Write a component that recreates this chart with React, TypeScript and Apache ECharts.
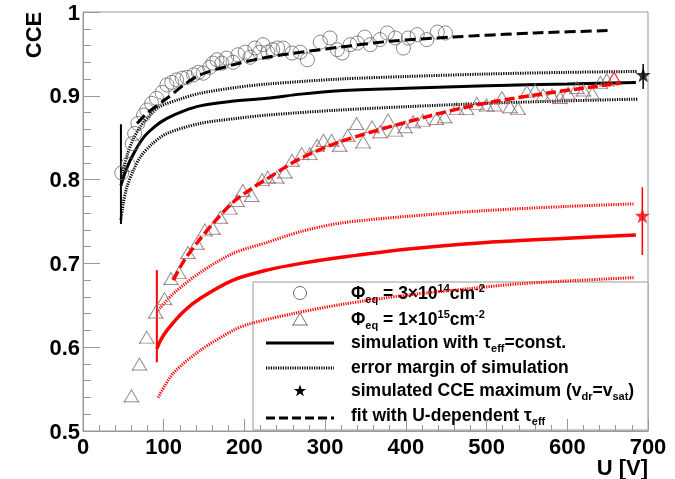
import React, { useEffect, useRef } from "react";
import * as echarts from "echarts";

type P = [number, number];

const xTicks = [0, 100, 200, 300, 400, 500, 600, 700];
const yTicks = [0.5, 0.6, 0.7, 0.8, 0.9, 1];

const circles3e14: P[] = [[48,0.808],[56,0.818],[61,0.843],[64,0.855],[68,0.867],[75,0.877],[79,0.883],[85,0.891],[91,0.897],[98,0.904],[104,0.913],[110,0.916],[116,0.919],[123,0.921],[129,0.922],[137,0.925],[143,0.928],[149,0.927],[157,0.934],[161,0.939],[166,0.943],[172,0.939],[178,0.945],[186,0.940],[192,0.949],[201,0.952],[207,0.946],[213,0.957],[219,0.952],[223,0.961],[229,0.952],[235,0.955],[241,0.957],[248,0.957],[259,0.951],[269,0.952],[278,0.943],[294,0.964],[306,0.969],[315,0.955],[321,0.951],[331,0.961],[340,0.963],[349,0.970],[356,0.961],[368,0.967],[377,0.975],[387,0.969],[397,0.957],[403,0.969],[414,0.973],[426,0.967],[439,0.976],[449,0.975]];

const triangles1e15: P[] = [[60,0.542],[70,0.580],[79,0.612],[90,0.642],[101,0.658],[109,0.682],[119,0.689],[130,0.713],[141,0.724],[151,0.740],[161,0.742],[170,0.755],[182,0.766],[191,0.775],[198,0.787],[209,0.781],[222,0.800],[229,0.803],[240,0.803],[250,0.809],[259,0.823],[271,0.831],[281,0.831],[290,0.841],[298,0.847],[308,0.847],[318,0.841],[328,0.853],[339,0.867],[347,0.845],[358,0.863],[368,0.857],[378,0.871],[387,0.859],[399,0.863],[409,0.869],[421,0.871],[438,0.873],[448,0.875],[463,0.885],[475,0.885],[488,0.891],[500,0.889],[510,0.889],[519,0.898],[529,0.887],[539,0.885],[550,0.905],[560,0.907],[570,0.901],[581,0.901],[591,0.898],[601,0.903],[612,0.910],[620,0.907],[631,0.903],[641,0.916],[649,0.919]];
const triangleLastRed: P[] = [[658,0.921]];

const simBlack: P[] = [[47,0.793],[52,0.808],[60,0.826],[74,0.849],[90,0.864],[104,0.873],[125,0.882],[145,0.888],[180,0.893],[228,0.897],[270,0.902],[318,0.906],[400,0.909],[500,0.912],[600,0.914],[685,0.916]];
const simBlackUp: P[] = [[48,0.805],[55,0.830],[62,0.848],[71,0.863],[82,0.876],[95,0.887],[120,0.896],[145,0.903],[190,0.910],[228,0.914],[318,0.920],[400,0.923],[500,0.926],[600,0.928],[687,0.929]];
const simBlackLow: P[] = [[47,0.752],[50,0.772],[54,0.790],[62,0.810],[71,0.827],[85,0.842],[104,0.855],[145,0.867],[190,0.873],[228,0.877],[318,0.883],[400,0.887],[500,0.891],[600,0.894],[687,0.896]];
const fitBlack: P[] = [[67,0.867],[79,0.879],[104,0.897],[125,0.913],[145,0.925],[186,0.937],[228,0.946],[270,0.952],[318,0.958],[380,0.965],[455,0.970],[560,0.975],[656,0.978]];

const simRed: P[] = [[91.5,0.598],[96,0.608],[104,0.620],[124,0.642],[145,0.658],[186,0.680],[228,0.692],[270,0.700],[318,0.707],[400,0.717],[500,0.725],[600,0.730],[685,0.734]];
const simRedUp: P[] = [[93,0.644],[112,0.664],[145,0.689],[186,0.712],[228,0.725],[270,0.738],[318,0.748],[400,0.756],[498,0.763],[600,0.768],[682,0.771]];
const simRedLow: P[] = [[93,0.540],[112,0.569],[145,0.596],[186,0.620],[207,0.628],[260,0.640],[320,0.651],[400,0.662],[480,0.670],[545,0.676],[682,0.683]];
const fitRed: P[] = [[112,0.680],[125,0.703],[145,0.729],[165,0.752],[186,0.773],[207,0.788],[228,0.801],[269,0.825],[318,0.845],[395,0.867],[477,0.887],[560,0.901],[665,0.915]];

const errBarBlackStart: P[] = [[47,0.747],[47,0.866]];
const errBarRedStart: P[] = [[91.5,0.582],[91.5,0.692]];
const maxBlack: P[] = [[694,0.925]];
const maxBlackErr: P[] = [[694,0.908],[694,0.938]];
const maxRed: P[] = [[693,0.757]];
const maxRedErr: P[] = [[693,0.710],[693,0.791]];

const STAR = "path://M0,-10L2.35,-3.24L9.51,-3.09L3.8,1.24L5.88,8.09L0,4L-5.88,8.09L-3.8,1.24L-9.51,-3.09L-2.35,-3.24Z";
const FONT = "'Liberation Sans', Arial, Helvetica, sans-serif";
const DOT = [1.2, 1.2];
const DASH = [11, 5];
const TRI_W = 14, TRI_H = 12;

function starPoints(cx: number, cy: number, r: number): number[][] {
  const pts: number[][] = [];
  for (let i = 0; i < 10; i++) {
    const a = -Math.PI / 2 + (i * Math.PI) / 5;
    const rr = i % 2 === 0 ? r : r * 0.4;
    pts.push([cx + rr * Math.cos(a), cy + rr * Math.sin(a)]);
  }
  return pts;
}

const lineSeries = (data: P[], color: string, type: any, width = 3, z = 2) => ({
  type: "line",
  data,
  showSymbol: false,
  symbol: "none",
  smooth: 0.3,
  lineStyle: { color, width, type },
  z,
});

const cornerDots = (offset: number[]) => ({
  type: "scatter",
  data: triangles1e15,
  symbol: "rect",
  symbolSize: 1.5,
  symbolOffset: offset,
  itemStyle: { color: "#ff5050" },
  z: 4,
  silent: true,
});

const richStyles = {
  m: { fontSize: 17.5, fontWeight: "bold", fontFamily: FONT, color: "#000", lineHeight: 22 },
  s: { fontSize: 11, fontWeight: "bold", fontFamily: FONT, color: "#000", lineHeight: 10, verticalAlign: "bottom" },
  p: { fontSize: 11, fontWeight: "bold", fontFamily: FONT, color: "#000", lineHeight: 10, verticalAlign: "top" },
};

export default function App() {
  const ref = useRef<HTMLDivElement>(null);
  useEffect(() => {
    if (!ref.current) return;
    const chart = echarts.init(ref.current, undefined, { renderer: "svg" });
    const LX = 253, LY = 282, LW = 395, LH = 148;
    const symX = 300, txtX = 351;
    const rows = [293, 319, 342, 367, 390, 415];
    const legendText = (y: number, text: string) => ({
      type: "text",
      x: txtX,
      y,
      style: { text, rich: richStyles, align: "left", verticalAlign: "middle", font: `bold 17.5px ${FONT}` },
    });
    const option: any = {
      animation: false,
      grid: { left: 83, right: 27, top: 12, bottom: 48, show: true, borderColor: "#999", borderWidth: 1, backgroundColor: "transparent" },
      xAxis: {
        type: "value",
        min: xTicks[0],
        max: xTicks[xTicks.length - 1],
        interval: 100,
        axisLine: { show: true, onZero: false, lineStyle: { color: "#999", width: 1 } },
        axisTick: { show: true, inside: true, length: 12, lineStyle: { color: "#999" } },
        minorTick: { show: true, splitNumber: 5, length: 6, lineStyle: { color: "#999" } },
        splitLine: { show: false },
        axisLabel: { margin: 4, fontSize: 22, fontWeight: "bold", color: "#000", fontFamily: FONT, showMaxLabel: true, showMinLabel: true },
      },
      yAxis: {
        type: "value",
        min: yTicks[0],
        max: yTicks[yTicks.length - 1],
        interval: 0.1,
        axisLine: { show: true, onZero: false, lineStyle: { color: "#999", width: 1 } },
        axisTick: { show: true, inside: true, length: 17, lineStyle: { color: "#999" } },
        minorTick: { show: true, splitNumber: 5, length: 8, lineStyle: { color: "#999" } },
        splitLine: { show: false },
        axisLabel: {
          margin: 3,
          fontSize: 22,
          fontWeight: "bold",
          color: "#000",
          fontFamily: FONT,
          padding: [7, 0, 0, 0],
          formatter: (v: number) => (Math.abs(v - 1) < 1e-9 ? "1" : v.toFixed(1)),
        },
      },
      series: [
        lineSeries(simBlackUp, "#000", DOT),
        lineSeries(simBlackLow, "#000", DOT),
        lineSeries(simBlack, "#000", "solid"),
        lineSeries(simRedUp, "#ff0000", DOT),
        lineSeries(simRedLow, "#ff0000", DOT),
        lineSeries(simRed, "#ff0000", "solid", 3.5),
        { type: "line", data: errBarBlackStart, symbol: "none", lineStyle: { color: "#000", width: 2 }, z: 3 },
        { type: "line", data: errBarRedStart, symbol: "none", lineStyle: { color: "#ff0000", width: 2 }, z: 3 },
        { type: "line", data: maxBlackErr, symbol: "none", lineStyle: { color: "#000", width: 1.5 }, z: 3 },
        { type: "line", data: maxRedErr, symbol: "none", lineStyle: { color: "#ff0000", width: 1.5 }, z: 3 },
        {
          type: "scatter", data: circles3e14, symbol: "circle", symbolSize: 14,
          itemStyle: { color: "rgba(0,0,0,0)", borderColor: "#666", borderWidth: 1 }, z: 4,
        },
        {
          type: "scatter", data: triangles1e15, symbol: "triangle", symbolSize: [TRI_W, TRI_H],
          itemStyle: { color: "rgba(0,0,0,0)", borderColor: "#777", borderWidth: 1 }, z: 4,
        },
        cornerDots([-TRI_W / 2, TRI_H / 2]),
        cornerDots([TRI_W / 2, TRI_H / 2]),
        {
          type: "scatter", data: triangleLastRed, symbol: "triangle", symbolSize: [TRI_W, TRI_H],
          itemStyle: { color: "rgba(0,0,0,0)", borderColor: "#ff0000", borderWidth: 1.2 }, z: 4,
        },
        lineSeries(fitBlack, "#000", DASH, 3, 5),
        lineSeries(fitRed, "#ff0000", [10, 4], 3.5, 5),
        { type: "scatter", data: maxBlack, symbol: STAR, symbolSize: 15, itemStyle: { color: "#000" }, z: 6 },
        { type: "scatter", data: maxRed, symbol: STAR, symbolSize: 15, itemStyle: { color: "#ff0000" }, z: 6 },
      ],
      graphic: [
        {
          type: "text", x: 33, y: 35, rotation: Math.PI / 2,
          style: { text: "CCE", font: `bold 22px ${FONT}`, fill: "#000", align: "center", verticalAlign: "middle" },
        },
        {
          type: "text", x: 648, y: 467,
          style: { text: "U [V]", font: `bold 22px ${FONT}`, fill: "#000", align: "right", verticalAlign: "middle" },
        },
        {
          type: "group",
          z: 100,
          children: [
            { type: "rect", shape: { x: LX, y: LY, width: LW, height: LH }, style: { fill: "#fff", stroke: "#999", lineWidth: 1 } },
            { type: "circle", shape: { cx: symX, cy: rows[0], r: 6.5 }, style: { fill: "none", stroke: "#666", lineWidth: 1 } },
            { type: "polygon", shape: { points: [[symX - 7, rows[1] + 6], [symX, rows[1] - 6], [symX + 7, rows[1] + 6]] }, style: { fill: "none", stroke: "#777", lineWidth: 1 } },
            { type: "rect", shape: { x: symX - 7.75, y: rows[1] + 5.25, width: 1.5, height: 1.5 }, style: { fill: "#ff5050" } },
            { type: "rect", shape: { x: symX + 6.25, y: rows[1] + 5.25, width: 1.5, height: 1.5 }, style: { fill: "#ff5050" } },
            { type: "line", shape: { x1: 266, y1: rows[2] + 1, x2: 334, y2: rows[2] + 1 }, style: { stroke: "#000", lineWidth: 3 } },
            { type: "line", shape: { x1: 266, y1: rows[3] + 1, x2: 334, y2: rows[3] + 1 }, style: { stroke: "#000", lineWidth: 3, lineDash: DOT } },
            { type: "polygon", shape: { points: starPoints(symX, rows[4] + 1, 6.5) }, style: { fill: "#000" } },
            { type: "line", shape: { x1: 266, y1: rows[5] + 3, x2: 334, y2: rows[5] + 3 }, style: { stroke: "#000", lineWidth: 3, lineDash: [9, 4] } },
            legendText(rows[0], "{m|Φ}{s|eq}{m| = 3×10}{p|14}{m|cm}{p|-2}"),
            legendText(rows[1], "{m|Φ}{s|eq}{m| = 1×10}{p|15}{m|cm}{p|-2}"),
            legendText(rows[2], "{m|simulation with τ}{s|eff}{m|=const.}"),
            legendText(rows[3], "{m|error margin of simulation}"),
            legendText(rows[4], "{m|simulated CCE maximum (v}{s|dr}{m|=v}{s|sat}{m|)}"),
            legendText(rows[5], "{m|fit with U-dependent τ}{s|eff}"),
          ],
        },
      ],
    };
    chart.setOption(option);
    return () => chart.dispose();
  }, []);
  return <div ref={ref} style={{ position: "fixed", left: 0, top: 0, width: 675, height: 479 }} />;
}
